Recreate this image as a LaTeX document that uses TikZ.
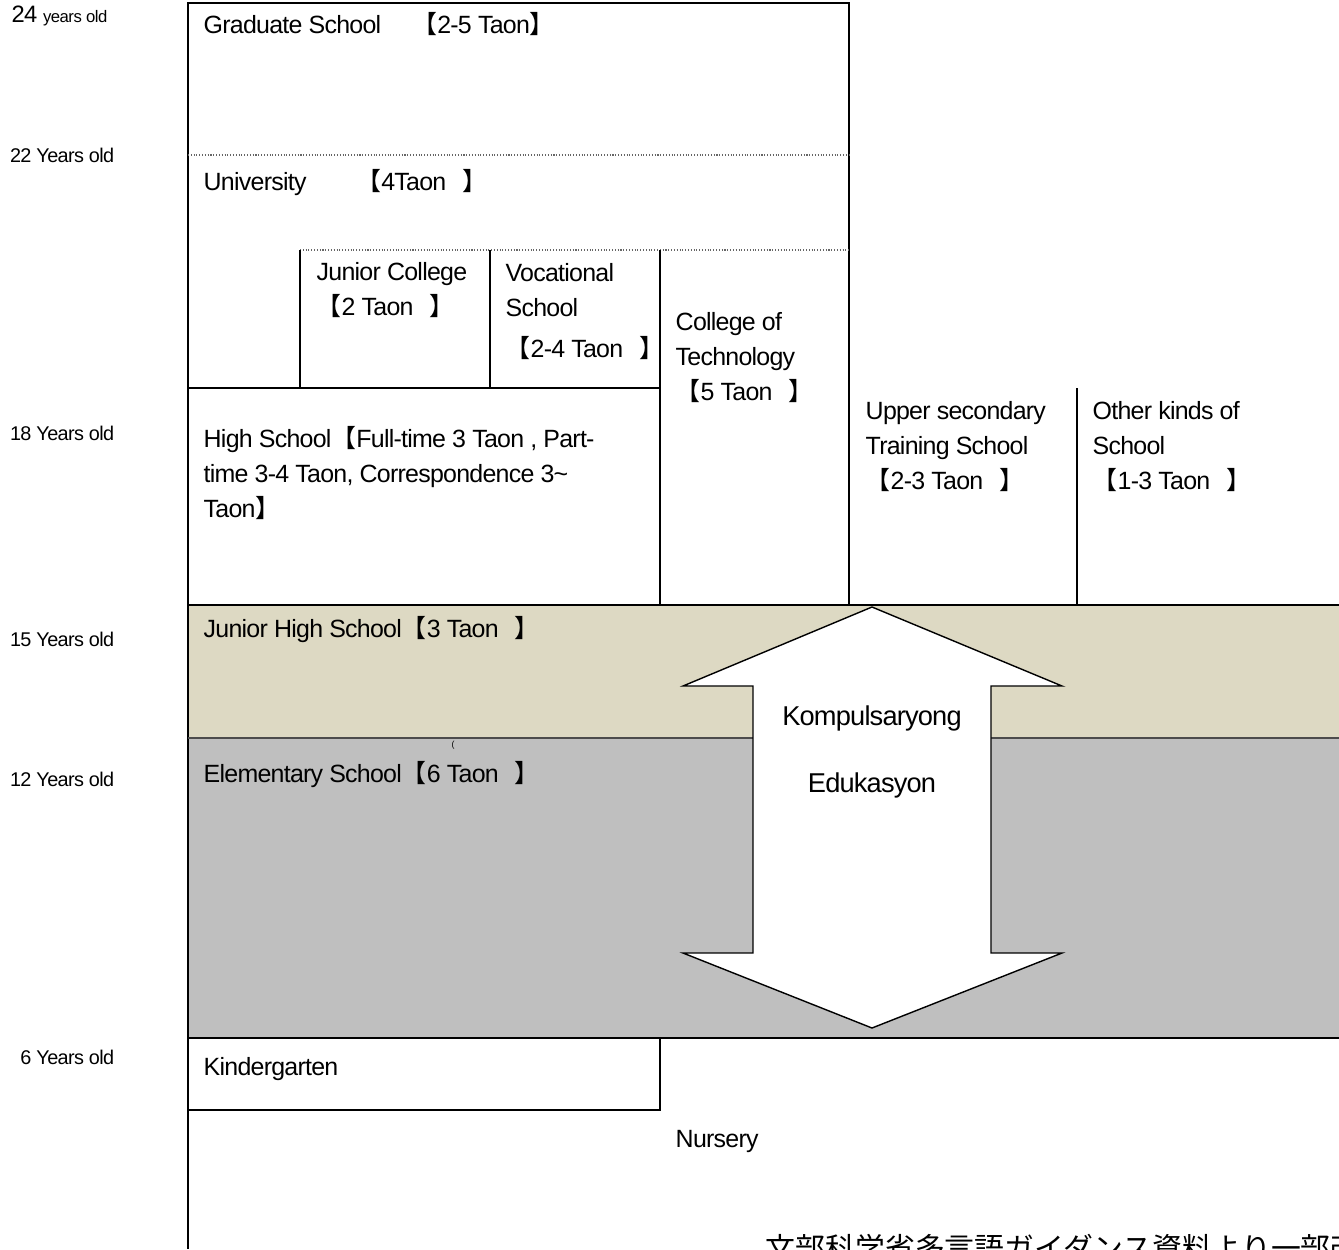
\documentclass[tikz,border=0pt]{standalone}
\usepackage{fontspec}
\setmainfont{Liberation Sans}[LetterSpace=-3]
\newfontfamily\cjk{Noto Sans CJK JP}
\usetikzlibrary{positioning}

\newcommand{\obr}{{\cjk 【}}
\newcommand{\cbr}{{\cjk 】}}
\newcommand{\gcbr}{\hspace{9pt}\cbr}

\definecolor{jhsfill}{RGB}{221,217,195}
\definecolor{elemfill}{RGB}{191,191,191}

\tikzset{
    age/.style = {anchor=base east, inner sep=0, font=\fontsize{11.3}{13}\selectfont},
    txt/.style = {anchor=base west, inner sep=0, align=left, font=\fontsize{14.2}{19.8}\selectfont},
    sep/.style = {densely dotted, line width=0.6pt, black!60}
}

\begin{document}
\begin{tikzpicture}[x=0.02cm, y=-0.02cm, black, line width=0.8pt]

    \useasboundingbox (0,0) rectangle (1339,1249);

    % compulsory years
    \fill[jhsfill] (188,605) rectangle (1339,738);
    \fill[elemfill] (188,738) rectangle (1339,1038);

    % frame
    \draw (849,605) -- (849,3) -- (188,3) -- (188,1249);
    \draw[sep] (188,155) -- (849,155);
    \draw[sep] (300,250) -- (849,250);
    \draw (300,250) -- (300,388);
    \draw (490,250) -- (490,388);
    \draw (660,250) -- (660,605);
    \draw (188,388) -- (660,388);
    \draw (1077,388) -- (1077,605);
    \draw (188,605) -- (1339,605);
    \draw[black!70, line width=0.6pt] (188,738) -- (1339,738);
    \draw[line width=1.2pt] (188,1038) -- (1339,1038);
    \draw (660,1038) -- (660,1110) -- (188,1110);

    % arrow
    \draw[fill=white] (872,607) -- (1062,686) -- (991,686) -- (991,953) -- (1062,953)
        -- (872,1028) -- (683,953) -- (753,953) -- (753,686) -- (683,686) -- cycle;

    % ages
    \node (A24) at (108,22) [age] {\fontsize{13.5}{15}\selectfont 24 {\fontsize{9.5}{11}\selectfont years old}};
    \node (A22) at (115,162) [age] {22 Years old};
    \node (A18) at (115,440) [age] {18 Years old};
    \node (A15) at (115,646) [age] {15 Years old};
    \node (A12) at (115,786) [age] {12 Years old};
    \node (A6) at (115,1064) [age] {6 Years old};

    % schools (multi-line nodes sit on their last line)
    \node (GS) at (203,33) [txt] {Graduate School\quad\ \obr2-5 Taon\cbr};
    \node (UN) at (203,190) [txt] {University\quad\quad\obr4Taon\gcbr};
    \node (JC) at (316,315) [txt] {Junior College\\\obr2 Taon\gcbr};
    \node (VS) at (505,357) [txt] {Vocational\\School\\[3.4pt]\obr2-4 Taon\gcbr};
    \node (CT) at (675,400) [txt] {College of\\Technology\\\obr5 Taon\gcbr};
    \node (HS) at (203,517) [txt] {High School\obr Full-time 3 Taon , Part-\\time 3-4 Taon, Correspondence 3\textasciitilde\\Taon\cbr};
    \node (US) at (865,489) [txt] {Upper secondary\\Training School\\\obr2-3 Taon\gcbr};
    \node (OS) at (1092,489) [txt] {Other kinds of\\School\\\obr1-3 Taon\gcbr};
    \node (JH) at (203,637) [txt] {Junior High School\obr3 Taon\gcbr};
    \node (ES) at (203,782) [txt] {Elementary School\obr6 Taon\gcbr};
    \node (PR) at (453,745) [inner sep=0, font=\fontsize{5}{6}\selectfont] {(};
    \node (KG) at (203,1075) [txt] {Kindergarten};
    \node (NS) at (675,1147) [txt] {Nursery};

    \node (KOM) at (872,725) [txt, anchor=base, font=\fontsize{15.5}{18}\selectfont] {Kompulsaryong};
    \node (EDU) [txt, font=\fontsize{15.5}{18}\selectfont, below=38.5pt of KOM.base, anchor=base] {Edukasyon};

    \node (SRC) at (765,1259) [anchor=base west, inner sep=0, font=\cjk\fontsize{17}{20}\selectfont] {文部科学省多言語ガイダンス資料より一部改変};

\end{tikzpicture}
\end{document}
